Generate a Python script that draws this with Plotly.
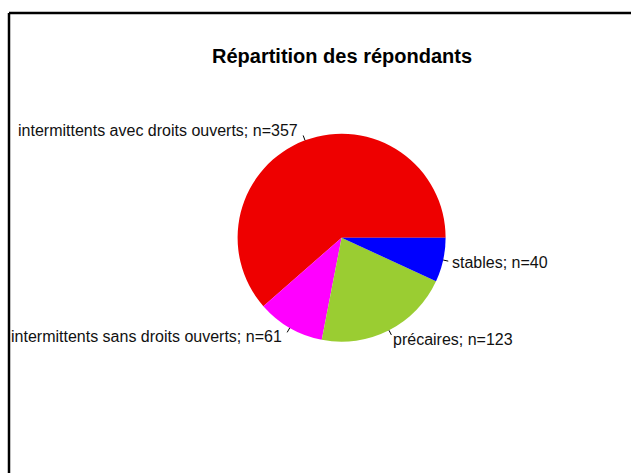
import math
import plotly.graph_objects as go

categories = ["intermittents avec droits ouverts", "intermittents sans droits ouverts", "précaires", "stables"]
counts = [357, 61, 123, 40]
colors = ["#EE0000", "#FF00FF", "#9ACD32", "#0000FF"]
title_text = "Répartition des répondants"

W, H = 631, 473
cx, cy, R = 341.6, 237.7, 104.0

total = sum(counts)
# R pie: first slice starts at 3 o'clock and goes counterclockwise.
# Plotly (counterclockwise): first slice ends at `rotation`.
rotation = 90 - 360 * counts[0] / total

fig = go.Figure(go.Pie(
    labels=categories, values=counts, sort=False,
    direction="counterclockwise", rotation=rotation,
    marker=dict(colors=colors, line=dict(width=0)),
    textinfo="none", hoverinfo="label+value", showlegend=False,
    domain=dict(x=[(cx - R) / W, (cx + R) / W], y=[1 - (cy + R) / H, 1 - (cy - R) / H]),
))

def px(x, y):
    return x / W, 1 - y / H

start = 0.0
shapes = []
annotations = []
for cat, n in zip(categories, counts):
    frac = n / total
    mid = (start + frac / 2) * 2 * math.pi
    start += frac
    c, s = math.cos(mid), math.sin(mid)
    x0, y0 = px(cx + R * c, cy - R * s)
    x1, y1 = px(cx + 1.05 * R * c, cy - 1.05 * R * s)
    shapes.append(dict(type="line", xref="paper", yref="paper", x0=x0, y0=y0, x1=x1, y1=y1,
                       line=dict(color="black", width=1)))
    tx, ty = px(cx + 1.1 * R * c, cy - 1.1 * R * s)
    annotations.append(dict(xref="paper", yref="paper", x=tx, y=ty, showarrow=False,
                            text=f"{cat}; n={n}", xanchor="left" if c > 0 else "right",
                            xshift=-2 if c > 0 else -2, borderpad=0,
                            yanchor="middle", font=dict(size=16, color="#111111")))

annotations.append(dict(xref="paper", yref="paper", x=cx / W, y=1 - 56 / H, showarrow=False,
                        text=f"<b>{title_text}</b>", xanchor="center", yanchor="middle",
                        font=dict(size=20, color="black")))

# frame (top and left edges)
shapes.append(dict(type="line", xref="paper", yref="paper", x0=9 / W, y0=1 - 13 / H, x1=1, y1=1 - 13 / H,
                   line=dict(color="black", width=2.5)))
shapes.append(dict(type="line", xref="paper", yref="paper", x0=9 / W, y0=1 - 13 / H, x1=9 / W, y1=0,
                   line=dict(color="black", width=2.5)))

fig.update_layout(
    width=W, height=H, margin=dict(l=0, r=0, t=0, b=0),
    paper_bgcolor="white", plot_bgcolor="white",
    font=dict(family="Liberation Sans, Arial, sans-serif"),
    shapes=shapes, annotations=annotations,
)
fig.write_html("out.html", config={"displayModeBar": False},
               post_script="document.body.style.margin='0';document.body.style.overflow='hidden';")
